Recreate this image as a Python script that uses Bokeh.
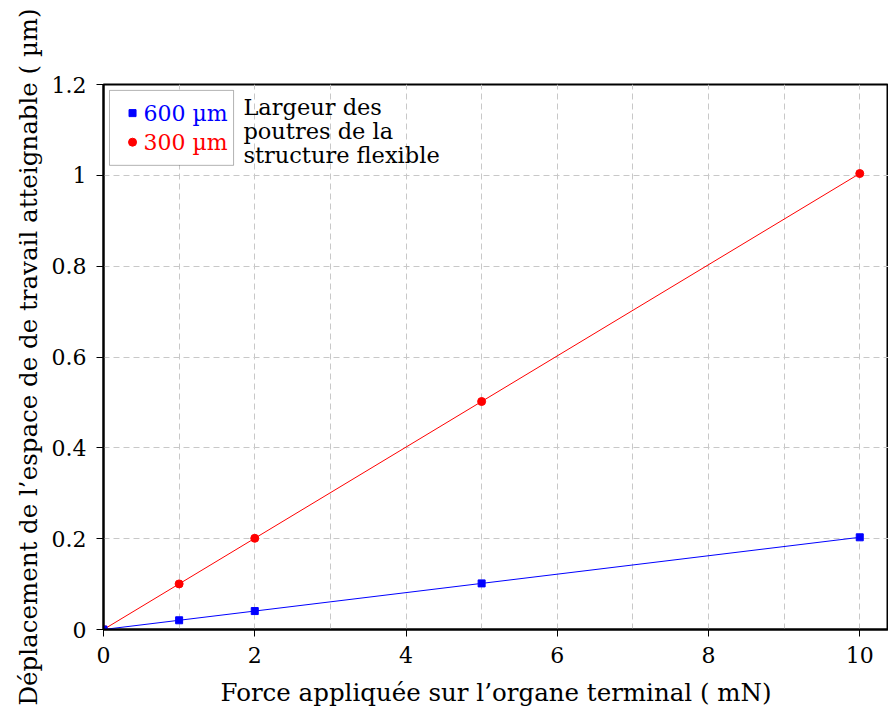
from bokeh.plotting import figure
from bokeh.models import (ColumnDataSource, FixedTicker, SingleIntervalTicker,
                          BoxAnnotation, Label, Range1d)
from bokeh.embed import file_html
from bokeh.resources import INLINE

# ---- data ----
force_mN = [0, 1, 2, 5, 10]
disp_600 = [0, 0.0203, 0.0406, 0.1015, 0.203]
disp_300 = [0, 0.1004, 0.2008, 0.502, 1.004]

x_ticks = [0, 2, 4, 6, 8, 10]
y_ticks = [0, 0.2, 0.4, 0.6, 0.8, 1, 1.2]
y_tick_labels = ["0", "0.2", "0.4", "0.6", "0.8", "1", "1.2"]

legend_labels = ["600 µm", "300 µm"]
legend_title = ["Largeur des", "poutres de la", "structure flexible"]

x_label = "Force appliquée sur l’organe terminal ( mN)"
y_label = "Déplacement de l’espace de de travail atteignable ( µm)"

FONT = "DejaVu Serif"
BLUE = "#0000ff"
RED = "#ff0000"

p = figure(width=888, height=713, output_backend="svg", toolbar_location=None,
           x_range=Range1d(0, 10.38), y_range=Range1d(0, 1.2),
           min_border_left=103, min_border_top=84, min_border_bottom=84,
           min_border_right=0)
p.background_fill_color = "white"
p.border_fill_color = "white"
p.outline_line_color = "black"
p.outline_line_width = 2

# axes
for ax in (p.xaxis[0], p.yaxis[0]):
    ax.axis_line_width = 2
    ax.axis_line_color = "black"
    ax.major_tick_line_color = "black"
    ax.major_tick_line_width = 1
    ax.major_tick_out = 7
    ax.major_tick_in = 0
    ax.minor_tick_line_color = None
    ax.major_label_text_font = FONT
    ax.major_label_text_font_size = "22px"
    ax.major_label_text_color = "black"
    ax.axis_label_text_font = FONT
    ax.axis_label_text_font_size = "24.5px"
    ax.axis_label_text_font_style = "normal"
    ax.axis_label_text_color = "black"

p.xaxis.ticker = FixedTicker(ticks=x_ticks)
p.yaxis.ticker = FixedTicker(ticks=y_ticks)
p.yaxis.major_label_overrides = {t: l for t, l in zip(y_ticks, y_tick_labels)}
p.xaxis.axis_label = x_label
p.yaxis.axis_label = y_label
p.xaxis.major_label_standoff = 10
p.yaxis.major_label_standoff = 10
p.xaxis.axis_label_standoff = 12
p.yaxis.axis_label_standoff = 6

# grids
p.xgrid.ticker = SingleIntervalTicker(interval=1)
p.ygrid.ticker = SingleIntervalTicker(interval=0.2)
for g in (p.xgrid[0], p.ygrid[0]):
    g.grid_line_color = "#c8c8c8"
    g.grid_line_dash = "6 4"
    g.grid_line_width = 1

# ---- legend box (underlay, drawn after the grid so that it hides it) ----
box = BoxAnnotation(left=0.079, right=1.72, bottom=1.022, top=1.187,
                    fill_color="white", fill_alpha=1.0,
                    line_color="black", line_width=1, level="underlay")
p.add_layout(box)

src = ColumnDataSource(dict(x=force_mN, y600=disp_600, y300=disp_300))
p.line("x", "y300", source=src, line_color=RED, line_width=1)
p.scatter("x", "y300", source=src, marker="circle", size=8,
          fill_color=RED, line_color=RED)
p.line("x", "y600", source=src, line_color=BLUE, line_width=1)
p.scatter("x", "y600", source=src, marker="square", size=7,
          fill_color=BLUE, line_color=BLUE)

# legend symbols
p.scatter(x=[0.384], y=[1.137], marker="square", size=7,
          fill_color=BLUE, line_color=BLUE)
p.scatter(x=[0.384], y=[1.073], marker="circle", size=8,
          fill_color=RED, line_color=RED)
for lab, yy, col in zip(legend_labels, [1.137, 1.073], [BLUE, RED]):
    p.add_layout(Label(x=0.53, y=yy, text=lab, text_color=col,
                       text_font=FONT, text_font_size="22px",
                       text_baseline="middle"))
for line, yy in zip(legend_title, [1.150, 1.097, 1.044]):
    p.add_layout(Label(x=1.85, y=yy, text=line, text_color="black",
                       text_font=FONT, text_font_size="22.5px",
                       text_baseline="middle"))

open("out.html", "w").write(file_html(p, INLINE))
